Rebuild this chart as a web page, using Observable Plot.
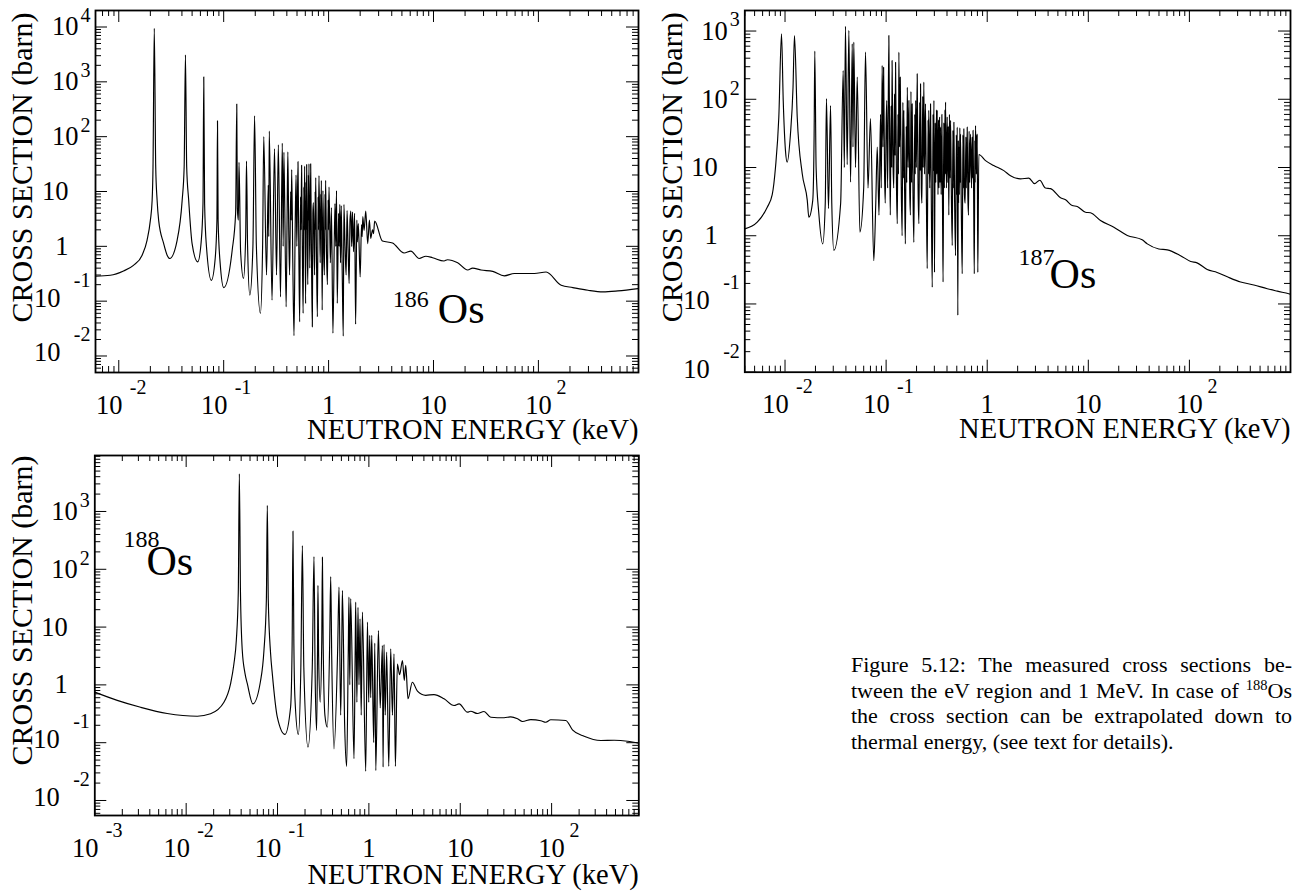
<!DOCTYPE html>
<html><head><meta charset="utf-8">
<script src="https://cdn.jsdelivr.net/npm/d3@7"></script>
<script src="https://cdn.jsdelivr.net/npm/@observablehq/plot@0.6"></script>
<style>
body{margin:0;background:#fff;}
#root{position:relative;width:1303px;height:894px;overflow:hidden;background:#fff;}
.panel{position:absolute;}
.panel svg{display:block;}
#caption{position:absolute;left:851px;top:652px;width:441px;font-family:'Liberation Serif','DejaVu Serif',serif;font-size:22px;line-height:25.5px;color:#000;}
#caption .j{text-align:justify;text-align-last:justify;white-space:nowrap;}
#caption sup{font-size:14.5px;line-height:0;vertical-align:0;position:relative;top:-8px;}
</style>
</head><body>
<div id="root">
  <div class="panel" id="p186" style="left:0px;top:0px"></div>
  <div class="panel" id="p187" style="left:650px;top:0px"></div>
  <div class="panel" id="p188" style="left:0px;top:445px"></div>
  <div id="caption">
    <div class="j">Figure 5.12: The measured cross sections be-</div>
    <div class="j">tween the eV region and 1 MeV. In case of <sup>188</sup>Os</div>
    <div class="j">the cross section can be extrapolated down to</div>
    <div>thermal energy, (see text for details).</div>
  </div>
</div>
<script>
// ---------------- DATA (energy in keV, cross section in barn) ----------------
const os186Resonances = [
 [0.006,0.285],[0.0083,0.297],[0.0111,0.356],[0.0138,0.45],[0.0167,0.69],[0.0186,1.29],[0.0200,2.97],[0.0208,6.9],[0.0212,28],[0.0218,9470],[0.0225,28],[0.0232,6.9],[0.0240,2.97],[0.0268,1.12],[0.0289,0.69],[0.0306,0.60],
 [0.0360,1.29],[0.0402,6.9],[0.0420,28],[0.0432,3100],[0.0444,28],[0.0464,6.9],[0.0500,1.12],[0.0566,0.52],
 [0.0610,1.2],[0.0635,6],[0.0646,1230],[0.0658,6],[0.0685,1.0],[0.0763,0.24],
 [0.0830,0.6],[0.0862,3],[0.0873,195],[0.0885,3],[0.0925,0.5],[0.1002,0.177],
 [0.1205,0.85],[0.1300,4],[0.1333,393],[0.1350,5],[0.1380,3],[0.1400,34],[0.1450,0.8],[0.1545,0.26],[0.1620,1.5],[0.1650,36],[0.1690,1],[0.1775,0.129],
 [0.1900,1],[0.1970,240],[0.2050,1],[0.2240,0.060],[0.2350,1],[0.2410,100],[0.2560,0.3],[0.2660,13],[0.2690,1.5],[0.2720,126],[0.2890,0.104],
 [0.3050,60],[0.3190,0.3],[0.3320,71],[0.3480,0.12],[0.3620,76],[0.3690,1],[0.3750,52],[0.3940,0.079],[0.4020,3],[0.4090,53],[0.4170,2],[0.4250,0.3],
 [0.4350,10],[0.4400,3],[0.4450,25],[0.4560,0.5],[0.4680,0.0234],[0.4800,2],[0.4900,20],[0.4980,1],[0.5110,35],[0.5200,1],[0.5300,0.042],[0.5400,8],
 [0.5460,2],[0.5530,30],[0.5620,1],[0.5720,0.06],[0.5810,12],[0.5860,2],[0.5910,29],[0.6040,0.09],[0.6100,15],[0.6140,2],[0.6180,31],[0.6260,1],[0.6340,0.2],
 [0.6420,20],[0.6460,3],[0.6500,32],[0.6620,0.4],[0.6750,32],[0.6880,0.5],[0.7000,0.034],[0.7080,4],[0.7160,6.3],[0.7360,0.3],[0.7450,10],[0.7490,2],[0.7540,18],
 [0.7680,0.5],[0.7820,0.052],[0.7950,8],[0.8010,2],[0.8100,19.5],[0.8320,0.5],[0.8420,9],[0.8470,2],[0.8530,16],[0.8690,0.069],[0.8830,10.4],[0.8980,0.8],
 [0.9120,0.3],[0.9250,9],[0.9300,2],[0.9370,16],[0.9550,0.8],[0.9750,0.2],[0.9900,7],[0.9980,2],[1.010,12],[1.040,0.5],[1.064,5.1],[1.100,0.026],[1.150,6],
 [1.170,1],[1.190,10.4],[1.210,0.091],[1.245,4],[1.260,1],[1.280,5.8],[1.300,0.5],[1.320,5.5],[1.350,0.3],[1.380,0.023],[1.400,5.8],[1.435,1],[1.470,0.3],
 [1.500,4.5],[1.535,0.9],[1.570,0.21],[1.600,3],[1.630,4.4],[1.660,1],[1.690,4.2],[1.730,0.8],[1.770,4.0],[1.810,0.038],[1.860,3],[1.880,1.2],[1.920,2.6],
 [2.000,0.277],[2.060,2.5],[2.090,1.5],[2.120,3.5],[2.180,1.95],[2.260,4.4],[2.360,1.12],[2.450,3.0],[2.520,1.4],[2.620,2.0],[2.680,1.7],[2.750,2.88]
];
const os186Continuum = [
 [3.26,1.25],[4.07,1.15],[5.25,0.755],[6.08,0.82],[7.3,0.60],[8.46,0.66],[9.8,0.62],[12.6,0.54],[13.6,0.57],[17,0.50],[21.2,0.37],[23.6,0.40],
 [28.4,0.37],[36.7,0.35],[47.3,0.29],[59,0.32],[91.6,0.32],[118.5,0.34],[165,0.195],[213,0.177],[297,0.158],[412,0.148],[573,0.154],[900,0.17]
];
const os187Resonances = [
 [0.004,1.26],[0.00531,1.58],[0.00667,2.62],[0.00747,4.0],[0.00805,10.1],[0.00868,54.6],[0.00923,912],[0.0096,95],[0.0101,17.7],[0.0105,12],[0.0113,30],[0.0120,150],
 [0.0124,861],[0.0132,55],[0.0148,8.1],[0.0166,3.3],[0.0172,1.87],[0.0188,3.3],[0.0194,30],[0.0197,507],[0.0203,10],[0.0216,2.1],[0.0236,0.76],[0.0250,3],[0.0257,102],
 [0.0269,2.5],[0.0282,81],[0.0290,3],[0.0304,0.61],[0.0355,3],[0.0376,263],[0.0386,10],[0.0396,1170],[0.0412,11],[0.0428,1020],[0.0445,6.1],[0.0462,650],[0.0470,20],
 [0.0479,690],[0.0498,10],[0.0518,211],[0.0550,1.13],[0.0600,5],[0.0625,490],[0.0662,5],[0.0700,52],[0.0755,0.43],
 [0.0790,3],[0.0817,20],[0.0850,2],[0.0880,60],[0.0895,5],[0.0914,313],[0.0930,20],[0.0944,295],[0.0965,8],[0.0980,3],[0.1000,40],[0.1014,96],[0.1035,5],
 [0.1064,861],[0.1085,15],[0.1100,2],[0.1120,80],[0.1135,10],[0.1145,370],[0.1170,12],[0.1190,5],[0.1210,120],[0.1225,15],[0.1240,349],[0.1265,6],[0.1290,1.5],
 [0.1310,60],[0.1325,8],[0.1337,490],[0.1360,20],[0.1380,211],[0.1410,6],[0.1440,1],[0.1465,90],[0.1480,7],[0.1496,69],[0.1525,4],[0.1550,0.76],[0.1580,40],
 [0.1600,6],[0.1620,150],[0.1650,10],[0.1680,96],[0.1710,5],[0.1740,2],[0.1760,130],[0.1785,6],[0.1810,86],[0.1845,4],[0.1880,0.8],[0.1920,60],[0.1940,8],
 [0.1960,96],[0.1990,10],[0.2030,236],[0.2070,5],[0.2110,1.5],[0.2150,90],[0.2170,9],[0.2190,169],[0.2230,5],[0.2260,3],[0.2300,110],[0.2330,10],[0.2360,178],
 [0.2400,8],[0.2450,86],[0.2500,4],[0.2550,0.33],[0.2600,50],[0.2620,8],[0.2640,69],[0.2700,5],[0.2750,86],[0.2800,3],[0.2860,0.176],[0.2910,60],[0.2940,9],
 [0.2970,96],[0.3010,0.29],[0.3060,45],[0.3100,6],[0.3150,70],[0.3180,8],[0.3200,69],[0.3260,4],[0.3300,50],[0.3330,5],[0.3380,55],[0.3410,6],[0.3450,39],
 [0.3500,4],[0.3560,60],[0.3610,3],[0.3660,0.21],[0.3720,45],[0.3770,5],[0.3820,70],[0.3850,8],[0.3870,91],[0.3950,5],[0.4020,55],[0.4080,6],[0.4120,40],
 [0.4170,2],[0.4230,60],[0.4280,7],[0.4340,49],[0.4420,4],[0.4510,0.72],[0.4580,35],[0.4620,5],[0.4680,46],[0.4760,3],[0.4860,0.51],[0.4950,30],[0.5000,4],
 [0.5050,39],[0.5120,0.068],[0.5180,25],[0.5210,3],[0.5250,20],[0.5300,4],[0.5360,38],[0.5400,6],[0.5440,31],[0.5550,2],[0.5660,0.277],[0.5750,30],[0.5800,5],
 [0.5870,37],[0.5950,4],[0.6050,3],[0.6150,28],[0.6200,5],[0.6340,39],[0.6430,4],[0.6530,2],[0.6620,34],[0.6700,6],[0.6840,31],[0.7000,5],[0.7100,28],[0.7160,7],
 [0.7240,35],[0.7350,3],[0.7450,0.277],[0.7550,25],[0.7600,6],[0.7660,41],[0.7820,8],[0.7880,30],[0.7920,10],[0.7960,31],[0.8070,0.29],[0.8260,15.5]
];
const os187Continuum = [
 [0.962,12.6],[1.16,10.7],[1.46,9.0],[1.70,7.6],[2.13,6.8],[2.58,7.0],[2.94,5.8],[3.31,6.5],[3.77,5.0],[4.23,4.9],[5.31,3.6],[5.96,3.36],[6.93,2.77],[7.77,2.68],
 [9.38,2.21],[10.5,2.17],[13.2,1.67],[17.9,1.33],[24.3,1.01],[34.1,0.87],[38.3,0.76],[49.8,0.64],[60.4,0.62],[81.7,0.51],[103,0.42],[119,0.40],[150,0.32],[188,0.29],
 [237,0.25],[321,0.21],[434,0.19],[589,0.167],[740,0.154],[962,0.141],[1000,0.139]
];
const os188Resonances = [
 [0.001,0.75],[0.00176,0.54],[0.00317,0.41],[0.0062,0.32],[0.01324,0.287],[0.0185,0.316],[0.0259,0.50],[0.0306,1.04],[0.0333,2.3],[0.0354,5.9],[0.0372,40],[0.0382,4490],
 [0.0393,40],[0.0411,4],[0.0440,1.6],[0.0467,1.05],[0.0538,0.47],[0.0653,1.19],[0.0710,3.9],[0.0755,30],[0.0773,1270],[0.0792,30],[0.0840,3.45],[0.0877,1.55],[0.0995,0.276],
 [0.1205,0.139],[0.139,0.41],[0.1445,5],[0.1476,457],[0.151,5],[0.155,0.6],[0.169,0.139],[0.180,2],[0.187,258],[0.194,2],[0.2155,0.084],[0.240,2],[0.2506,166],[0.258,1.5],
 [0.268,0.163],[0.274,4],[0.277,52.5],[0.282,3],[0.293,0.5],[0.305,6],[0.310,162],[0.316,5],[0.330,0.3],[0.351,0.186],[0.372,5],[0.382,75],[0.392,3],[0.415,0.078],
 [0.455,4],[0.471,49],[0.491,0.3],[0.505,5],[0.513,43],[0.543,0.2],[0.571,0.039],[0.595,4],[0.605,33],[0.618,1],[0.632,31],[0.687,0.053],[0.708,4],[0.717,27],
 [0.739,0.5],[0.760,22],[0.779,1],[0.800,13.9],[0.824,0.3],[0.849,18.1],[0.923,0.032],[0.964,12.2],[0.996,0.5],[1.02,7.2],[1.047,0.6],[1.074,7.2],[1.129,0.1],
 [1.16,5.3],[1.19,0.033],[1.271,8.7],[1.33,0.4],[1.406,4.8],[1.43,0.038],[1.463,5.0],[1.51,0.3],[1.565,3.7],[1.65,0.039],[1.733,4.2],[1.81,0.3],[1.883,3.45],
 [1.95,0.039],[2.05,2.3],[2.17,1.5],[2.33,2.64],[2.44,1.2],[2.53,2.17]
];
const os188Continuum = [
 [2.68,0.575],[2.99,1.11],[3.40,0.78],[4.19,0.66],[5.16,0.68],[6.65,0.575],[8.56,0.44],[9.71,0.47],[12.0,0.337],[13.0,0.35],[15.4,0.32],[18.2,0.347],[21.6,0.276],
 [30.2,0.27],[35.7,0.28],[42.4,0.259],[48.0,0.233],[59.2,0.25],[76.2,0.24],[86.4,0.226],[98,0.249],[143,0.242],[169,0.167],[227,0.129],[346,0.109],[484,0.11],[678,0.106],[900,0.098]
];

// axis domains and tick labels
const xDomain186 = [0.006, 900], yDomain186 = [0.005, 20000];
const xDomain187 = [0.004, 1000], yDomain187 = [0.01, 2000];
const xDomain188 = [0.001, 900], yDomain188 = [0.0055, 9300];
const xTicks186 = [0.01, 0.1, 1, 10, 100];
const xTickLabels186 = [["10","-2"],["10","-1"],["1",""],["10",""],["10","2"]];
const yTicks186 = [0.01, 0.1, 1, 10, 100, 1000, 10000];
const yTickLabels186 = [["10","-2"],["10","-1"],["1",""],["10",""],["10","2"],["10","3"],["10","4"]];
const xTicks187 = [0.01, 0.1, 1, 10, 100];
const xTickLabels187 = [["10","-2"],["10","-1"],["1",""],["10",""],["10","2"]];
const yTicks187 = [0.01, 0.1, 1, 10, 100, 1000];
const yTickLabels187 = [["10","-2"],["10","-1"],["1",""],["10",""],["10","2"],["10","3"]];
const xTicks188 = [0.001, 0.01, 0.1, 1, 10, 100];
const xTickLabels188 = [["10","-3"],["10","-2"],["10","-1"],["1",""],["10",""],["10","2"]];
const yTicks188 = [0.01, 0.1, 1, 10, 100, 1000];
const yTickLabels188 = [["10","-2"],["10","-1"],["1",""],["10",""],["10","2"],["10","3"]];
const xTitle = "NEUTRON ENERGY (keV)";
const yTitle = "CROSS SECTION (barn)";
// isotope labels: mass number and symbol, anchored at (energy, cross section)
const iso186 = {mass: "186", sym: "Os", massAt: [4.09, 0.109], symAt: [11.0, 0.0716]};
const iso187 = {mass: "187", sym: "Os", massAt: [2.04, 0.48], symAt: [4.14, 0.27]};
const iso188 = {mass: "188", sym: "Os", massAt: [0.00206, 328], symAt: [0.00368, 136]};

// ---------------- RENDERING ----------------
const FONT = "'Liberation Serif', 'DejaVu Serif', serif";

function minorTicks([lo, hi]) {
  const out = [];
  for (let e = Math.floor(Math.log10(lo)) - 1; e <= Math.ceil(Math.log10(hi)); e++)
    for (let m = 2; m <= 9; m++) {
      const v = +(m * Math.pow(10, e)).toPrecision(6);
      if (v >= lo * 0.9999 && v <= hi * 1.0001) out.push(v);
    }
  return out;
}

function labelMarks(ticks, labels, axis) {
  const rows = ticks.map((v, i) => ({v, base: labels[i][0], exp: labels[i][1]}));
  const plain = rows.filter(r => r.exp === "");
  const neg = rows.filter(r => r.exp.startsWith("-"));
  const pos = rows.filter(r => r.exp !== "" && !r.exp.startsWith("-"));
  const big = {fontSize: 26.5, fill: "black", fontFamily: FONT};
  const small = {fontSize: 20, fill: "black", fontFamily: FONT};
  if (axis === "x") {
    const b = {x: "v", frameAnchor: "bottom", lineAnchor: "bottom"};
    return [
      Plot.text(plain, {...b, text: "base", textAnchor: "middle", dy: 41, ...big}),
      Plot.text(neg, {...b, text: "base", textAnchor: "middle", dy: 41, dx: -9.5, ...big}),
      Plot.text(neg, {...b, text: "exp", dy: 21, dx: 11, textAnchor: "start", ...small}),
      Plot.text(pos, {...b, text: "base", textAnchor: "middle", dy: 41, dx: 0, ...big}),
      Plot.text(pos, {...b, text: "exp", dy: 21, dx: 18, textAnchor: "start", ...small})
    ];
  }
  const b = {y: "v", frameAnchor: "left", lineAnchor: "middle"};
  return [
    Plot.text(plain, {...b, text: "base", textAnchor: "end", dx: -27, ...big}),
    Plot.text(pos, {...b, text: "base", textAnchor: "end", dx: -17, ...big}),
    Plot.text(pos, {...b, text: "exp", textAnchor: "start", dx: -15, dy: -11, ...small}),
    Plot.text(neg, {...b, text: "base", textAnchor: "end", dx: -35, dy: -3, ...big}),
    Plot.text(neg, {...b, text: "exp", textAnchor: "end", dx: -5, dy: -21, ...small})
  ];
}

function panel(cfg) {
  const W = cfg.width - cfg.ml - cfg.mr;
  const H = cfg.height - cfg.mt - cfg.mb;
  const xMinor = minorTicks(cfg.xDomain), yMinor = minorTicks(cfg.yDomain);
  const data = cfg.data.map(([e, s]) => ({e, s}));
  return Plot.plot({
    width: cfg.width, height: cfg.height,
    marginLeft: cfg.ml, marginRight: cfg.mr, marginTop: cfg.mt, marginBottom: cfg.mb,
    x: {type: "log", domain: cfg.xDomain, axis: null},
    y: {type: "log", domain: cfg.yDomain, axis: null},
    style: {background: "white", color: "black", fontFamily: FONT, overflow: "visible"},
    marks: [
      // inward ticks on all four sides
      Plot.tickX(cfg.xTicks, {x: d => d, insetTop: H - 12, strokeWidth: 1}),
      Plot.tickX(cfg.xTicks, {x: d => d, insetBottom: H - 12, strokeWidth: 1}),
      Plot.tickX(xMinor, {x: d => d, insetTop: H - 6, strokeWidth: 1}),
      Plot.tickX(xMinor, {x: d => d, insetBottom: H - 6, strokeWidth: 1}),
      Plot.tickY(cfg.yTicks, {y: d => d, insetRight: W - 12, strokeWidth: 1}),
      Plot.tickY(cfg.yTicks, {y: d => d, insetLeft: W - 12, strokeWidth: 1}),
      Plot.tickY(yMinor, {y: d => d, insetRight: W - 6, strokeWidth: 1}),
      Plot.tickY(yMinor, {y: d => d, insetLeft: W - 6, strokeWidth: 1}),
      Plot.line(data, {x: "e", y: "s", stroke: "black", strokeWidth: 1.15, curve: "monotone-x", clip: true}),
      Plot.frame({stroke: "black", strokeWidth: 1.8}),
      ...labelMarks(cfg.xTicks, cfg.xLabels, "x"),
      ...labelMarks(cfg.yTicks, cfg.yLabels, "y"),
      Plot.text([xTitle], {frameAnchor: "bottom-right", textAnchor: "end", lineAnchor: "bottom", dy: cfg.xTitleDy, fontSize: 28.5, fill: "black", fontFamily: FONT}),
      Plot.text([yTitle], {frameAnchor: "left", textAnchor: "middle", lineAnchor: "middle", rotate: -90, dx: cfg.yTitleDx, dy: cfg.yTitleDy, fontSize: 30, fill: "black", fontFamily: FONT}),
      Plot.text([cfg.iso], {x: d => d.massAt[0], y: d => d.massAt[1], text: d => d.mass, textAnchor: "start", lineAnchor: "middle", fontSize: 24, fill: "black", fontFamily: FONT}),
      Plot.text([cfg.iso], {x: d => d.symAt[0], y: d => d.symAt[1], text: d => d.sym, textAnchor: "start", lineAnchor: "middle", fontSize: 42, fill: "black", fontFamily: FONT})
    ]
  });
}

document.getElementById("p186").appendChild(panel({
  width: 650, height: 450, ml: 95, mr: 12, mt: 10, mb: 78,
  xDomain: xDomain186, yDomain: yDomain186, xTicks: xTicks186, xLabels: xTickLabels186,
  yTicks: yTicks186, yLabels: yTickLabels186, data: os186Resonances.concat(os186Continuum),
  iso: iso186, xTitleDy: 66, yTitleDx: -73, yTitleDy: -24
}));
document.getElementById("p187").appendChild(panel({
  width: 653, height: 450, ml: 94.3, mr: 13, mt: 10, mb: 78.3,
  xDomain: xDomain187, yDomain: yDomain187, xTicks: xTicks187, xLabels: xTickLabels187,
  yTicks: yTicks187, yLabels: yTickLabels187, data: os187Resonances.concat(os187Continuum),
  iso: iso187, xTitleDy: 66, yTitleDx: -72.3, yTitleDy: -24
}));
document.getElementById("p188").appendChild(panel({
  width: 650, height: 449, ml: 94.3, mr: 11.7, mt: 10, mb: 79,
  xDomain: xDomain188, yDomain: yDomain188, xTicks: xTicks188, xLabels: xTickLabels188,
  yTicks: yTicks188, yLabels: yTickLabels188, data: os188Resonances.concat(os188Continuum),
  iso: iso188, xTitleDy: 68, yTitleDx: -72.3, yTitleDy: -25
}));
</script>
</body></html>
